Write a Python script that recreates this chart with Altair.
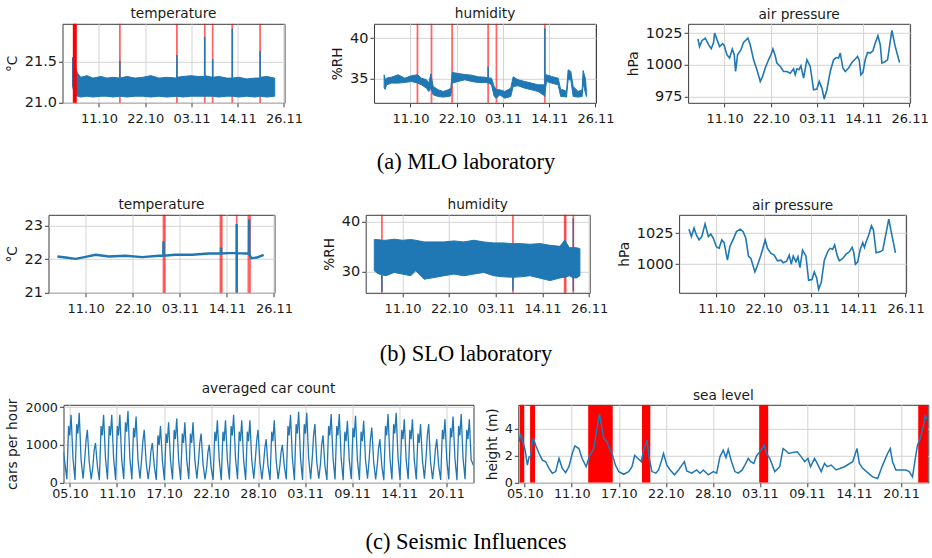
import altair as alt
import pandas as pd

# ---------------- time handling ----------------
DAY_MS = 86400000
T0_MS = int(pd.Timestamp("2017-10-11 06:00", tz="UTC").value // 10**6)  # the "11.10" tick


def ms(days):
    return [T0_MS + d * DAY_MS for d in days]


TICK_DAYS_WIDE = [0.0, 11.574074, 23.148148, 34.722222, 46.296296]
TICK_DAYS_NARROW = [-5.787037, 0.0, 5.787037, 11.574074, 17.361111, 23.148148,
                    28.935185, 34.722222, 40.509259]
DOM_SENS = [-9.13, 46.43]
DOM_SEIS = [-6.58, 43.87]

# ---------------- (a) MLO laboratory ----------------
TEMP_MLO_DAY = [-6.63, -6.05, -5.38, -4.55, -3.0, -1.5, 0.5, 2.0, 3.5, 5.18,
                5.23, 5.28, 7.0, 9.0, 11.0, 13.0, 15.0, 17.0, 19.46, 19.51,
                19.56, 21.0, 23.0, 24.8, 26.42, 26.47, 26.52, 28.41, 28.46, 28.51,
                30.0, 32.0, 33.31, 33.36, 33.41, 35.0, 37.0, 39.0, 40.28, 40.33,
                40.38, 42.0, 43.97]
TEMP_MLO_HI = [21.55, 21.45, 21.36, 21.31, 21.33, 21.30, 21.32, 21.30, 21.31, 21.30,
               21.51, 21.30, 21.32, 21.30, 21.31, 21.33, 21.30, 21.31, 21.30, 21.58,
               21.31, 21.32, 21.33, 21.32, 21.32, 21.80, 21.33, 21.31, 21.53, 21.31,
               21.32, 21.30, 21.30, 21.90, 21.30, 21.31, 21.29, 21.30, 21.30, 21.63,
               21.31, 21.32, 21.30]
TEMP_MLO_LO = [21.20, 21.10, 21.08, 21.07, 21.08, 21.07, 21.08, 21.08, 21.07, 21.08,
               21.08, 21.08, 21.07, 21.08, 21.08, 21.07, 21.08, 21.07, 21.08, 21.08,
               21.08, 21.07, 21.08, 21.08, 21.08, 21.08, 21.08, 21.08, 21.08, 21.08,
               21.07, 21.08, 21.08, 21.08, 21.08, 21.07, 21.08, 21.07, 21.08, 21.08,
               21.08, 21.07, 21.08]
TEMP_MLO_EVENTS = [5.23, 19.5, 26.47, 28.46, 33.36, 40.33]
TEMP_MLO_BLOCK = [-6.55, -5.55]

HUM_MLO_DAY = [-6.59, -6.30, -6.0, -4.75, -3.09, -1.42, 0.25, 1.75, 2.75, 4.0,
               4.59, 5.09, 5.68, 6.93, 8.18, 9.43, 10.1, 10.43, 11.93, 13.6,
               15.27, 16.93, 18.6, 19.39, 19.44, 19.49, 20.27, 20.94, 21.52, 22.35,
               23.6, 25.1, 25.69, 26.94, 28.6, 30.28, 31.95, 33.2, 33.58, 33.62,
               33.66, 34.03, 35.28, 36.96, 37.6, 38.21, 39.04, 39.46, 40.13, 40.71,
               41.96, 42.96, 43.21, 43.79, 44.04]
HUM_MLO_HI = [35.49, 34.90, 35.08, 35.2, 35.49, 35.08, 35.37, 35.5, 35.08, 34.88,
              34.47, 35.6, 34.06, 33.65, 33.44, 33.65, 33.85, 35.78, 35.65, 35.53,
              35.45, 35.24, 35.2, 35.1, 36.5, 35.1, 35.08, 34.06, 33.65, 33.65,
              33.44, 33.85, 35.24, 34.88, 34.67, 34.47, 34.26, 34.26, 34.3, 41.22,
              35.4, 35.49, 35.29, 35.08, 33.65, 33.65, 33.44, 36.11, 35.9, 34.06,
              33.44, 33.65, 36.02, 35.0, 33.44]
HUM_MLO_LO = [33.85, 33.70, 34.26, 34.47, 34.47, 34.55, 34.67, 34.47, 34.26, 33.85,
              33.44, 33.85, 33.03, 32.83, 32.75, 32.83, 32.9, 34.47, 34.67, 34.88,
              34.67, 34.55, 34.55, 34.5, 34.47, 34.47, 34.26, 32.83, 32.62, 33.03,
              32.62, 32.83, 34.06, 34.14, 33.85, 33.65, 33.44, 33.03, 32.9, 32.83,
              33.2, 34.67, 34.47, 34.26, 32.83, 32.83, 32.75, 34.88, 34.88, 32.83,
              32.75, 32.83, 34.47, 33.24, 32.83]
HUM_MLO_EVENTS = [1.75, 5.26, 10.43, 19.44, 21.52, 33.62]

PRES_MLO_DAY = [-6.67, -6.26, -5.67, -4.84, -4.0, -3.34, -2.75, -2.5, -1.92, -1.25,
                -0.5, -0.08, 0.58, 1.25, 1.92, 2.42, 2.75, 3.25, 4.09, 4.75,
                5.84, 6.42, 7.26, 8.09, 8.93, 9.51, 10.18, 11.01, 11.6, 12.1,
                12.68, 13.1, 13.93, 14.76, 15.6, 16.43, 17.27, 17.68, 18.1, 18.6,
                19.1, 19.77, 20.6, 21.44, 22.27, 23.11, 23.69, 24.36, 24.94, 25.61,
                26.44, 27.28, 27.94, 28.53, 28.95, 29.61, 30.2, 31.03, 31.86, 32.7,
                33.28, 33.7, 34.12, 34.62, 35.2, 35.79, 36.45, 37.12, 37.7, 38.37,
                38.96, 39.37, 40.21, 40.79, 41.87, 42.71, 43.79]
PRES_MLO_VAL = [1020.3, 1014.4, 1019.0, 1021.0, 1015.8, 1012.6, 1017.6, 1025.0, 1020.0, 1014.4,
                1016.7, 1015.0, 1007.9, 1005.3, 1012.4, 1007.9, 994.7, 1007.9, 1011.7, 1017.6,
                1021.0, 1015.8, 1003.9, 996.0, 986.9, 990.8, 997.4, 1003.9, 1007.9, 1012.4,
                1007.1, 1001.3, 998.7, 994.7, 994.7, 993.4, 996.8, 992.1, 996.8, 996.1,
                999.2, 989.5, 1003.9, 998.7, 980.3, 980.8, 986.9, 981.6, 973.0, 980.3,
                994.7, 1003.9, 1005.7, 1005.3, 1009.2, 997.4, 994.7, 997.4, 1001.8, 1004.5,
                1006.5, 1003.4, 992.1, 993.9, 1003.9, 1009.7, 1009.2, 1011.0, 1017.0, 1022.9,
                1015.8, 1001.3, 1002.6, 1003.9, 1027.1, 1014.4, 1001.8]

# ---------------- (b) SLO laboratory ----------------
TEMP_SLO_DAY = [-6.95, -4.92, -2.46, 0.0, 2.45, 5.72, 9.81, 13.9, 17.99, 19.10,
                19.14, 19.18, 22.08, 26.17, 30.26, 33.26, 33.30, 33.34, 35.17, 37.12,
                37.13, 37.14, 37.16, 39.27, 40.16, 40.20, 40.24, 40.74, 42.13, 43.77]
TEMP_SLO_VAL = [22.08, 22.05, 22.01, 22.07, 22.13, 22.08, 22.10, 22.06, 22.10, 22.10,
                22.53, 22.10, 22.13, 22.13, 22.17, 22.17, 22.35, 22.17, 22.18, 22.18,
                23.05, 21.0, 22.18, 22.17, 22.17, 23.18, 22.15, 22.03, 22.05, 22.13]
TEMP_SLO_EVENTS = [19.14, 19.47, 33.14, 33.46, 37.14, 40.01, 40.41]

HUM_SLO_DAY = [-7.0, -6.18, -5.16, -5.11, -5.06, -4.12, -2.07, 0.0, 2.05, 3.28,
               5.34, 7.81, 10.27, 12.74, 15.21, 17.68, 20.15, 22.61, 25.08, 27.34,
               27.39, 27.44, 29.2, 31.66, 34.13, 36.6, 39.07, 40.22, 40.47, 41.37,
               42.31, 42.36, 42.41, 43.18, 44.0]
HUM_SLO_HI = [36.42, 36.42, 36.3, 36.3, 36.3, 36.28, 36.49, 36.28, 36.42, 36.28,
              35.95, 35.95, 35.95, 36.15, 35.95, 36.28, 35.95, 35.75, 35.75, 35.6,
              35.6, 35.6, 35.61, 35.48, 35.61, 35.27, 35.07, 36.3, 36.0, 34.8,
              34.8, 40.68, 34.8, 34.8, 34.6]
HUM_SLO_LO = [30.2, 29.66, 29.4, 26.0, 29.4, 29.2, 29.86, 29.53, 29.2, 30.2,
              28.5, 28.84, 29.2, 29.53, 29.2, 29.53, 29.86, 29.2, 28.98, 28.9,
              26.28, 28.9, 28.98, 29.2, 28.72, 28.23, 28.77, 28.9, 28.9, 29.2,
              28.8, 26.15, 28.8, 28.77, 29.2]
HUM_SLO_EVENTS = [-5.11, 27.39, 40.22, 40.47, 42.36]

PRES_SLO_DAY = [-6.7, -6.13, -5.47, -4.9, -4.24, -3.58, -2.77, -1.96, -1.37, -0.74,
                0.0, 0.66, 1.32, 1.89, 2.7, 3.29, 4.1, 4.91, 5.81, 6.55,
                7.2, 7.85, 8.44, 9.42, 10.06, 10.89, 11.53, 11.94, 12.51, 13.34,
                14.15, 14.96, 15.8, 16.36, 17.18, 17.83, 18.32, 18.81, 19.47, 19.96,
                20.45, 21.09, 21.93, 22.57, 23.4, 23.96, 24.53, 25.02, 25.68, 26.42,
                27.23, 27.81, 28.45, 28.94, 29.61, 30.1, 30.91, 31.74, 32.55, 33.21,
                33.6, 34.02, 34.59, 35.17, 35.81, 36.23, 36.65, 37.29, 37.95, 38.44,
                39.1, 40.08, 40.72, 42.19, 43.02, 43.83]
PRES_SLO_VAL = [1028.3, 1022.3, 1029.1, 1023.6, 1019.6, 1022.3, 1032.6, 1022.3, 1024.4, 1020.9,
                1014.1, 1012.8, 1019.6, 1017.4, 1003.3, 1014.1, 1020.1, 1026.3, 1028.3, 1026.3,
                1020.9, 1006.5, 1004.6, 993.8, 999.2, 1007.3, 1014.7, 1019.6, 1012.8, 1008.7,
                1007.3, 1002.7, 1003.3, 1001.1, 1002.4, 1007.3, 1000.0, 1006.5, 1001.9, 1006.0,
                997.3, 1011.4, 1006.5, 987.0, 987.6, 993.8, 989.1, 979.6, 985.6, 1003.3,
                1010.0, 1012.8, 1012.0, 1015.5, 1006.5, 1002.7, 1004.6, 1008.1, 1010.0, 1013.6,
                1010.0, 1000.0, 1001.9, 1011.4, 1017.4, 1013.6, 1018.2, 1023.6, 1031.0, 1027.7,
                1009.2, 1010.0, 1011.4, 1036.4, 1022.3, 1009.2]

# ---------------- (c) Seismic influences ----------------
# one entry per day, 05.10 ... 23.11 (night low, morning, late morning, afternoon peak, evening)
CAR_FIRST_MIDNIGHT = -6.25
CAR_HOURS = [2.0, 7.0, 10.5, 14.5, 20.0]
CAR_LOW = [90, 70, 100, 80, 60, 80, 70, 90, 80, 100, 90, 70, 60, 80, 70, 90, 100, 80, 70, 60,
           80, 90, 70, 100, 80, 70, 90, 80, 60, 70, 90, 100, 70, 80, 60, 90, 70, 100, 80, 60,
           80, 70, 90, 80, 100, 90, 70, 80, 60, 90]
CAR_AM = [1500, 1550, 650, 450, 1500, 1500, 1500, 1600, 1450, 650, 450, 1250, 1300, 1400, 1300,
          1300, 600, 400, 1350, 1350, 1500, 1350, 1350, 650, 500, 1350, 450, 1500, 1550, 1550,
          700, 500, 1500, 1500, 1350, 1450, 1350, 650, 500, 1500, 1550, 1400, 1400, 1300, 700,
          500, 1400, 1450, 1500, 1400]
CAR_DIP = [1250, 1300, 1100, 850, 1250, 1250, 1250, 1350, 1200, 1100, 850, 1000, 1050, 1150, 1050,
           1050, 1050, 800, 1100, 1100, 1250, 1100, 1100, 1100, 900, 1100, 800, 1250, 1300, 1300,
           1250, 1000, 1250, 1250, 1100, 1200, 1100, 1150, 900, 1250, 1300, 1150, 1150, 1050, 1250,
           900, 1150, 1200, 1250, 1150]
CAR_PM = [1800, 1850, 1400, 1050, 1800, 1800, 1800, 1900, 1750, 1400, 1050, 1500, 1600, 1700, 1600,
          1600, 1300, 1000, 1650, 1650, 1800, 1650, 1650, 1400, 1150, 1650, 1000, 1800, 1880, 1850,
          1550, 1250, 1820, 1820, 1640, 1770, 1640, 1460, 1150, 1820, 1850, 1680, 1680, 1550, 1550,
          1150, 1680, 1750, 1820, 1680]
CAR_EVE = [650, 600, 550, 450, 650, 650, 600, 650, 600, 550, 450, 600, 600, 600, 600, 600, 500, 400,
           600, 600, 650, 600, 600, 550, 450, 600, 450, 650, 650, 650, 550, 450, 650, 650, 600, 600,
           600, 550, 450, 650, 650, 600, 600, 600, 550, 450, 600, 650, 650, 600]
CAR_START = [-6.58, 800]
CAR_END = [43.87, 450]

SEA_DAY = [-6.48, -6.27, -6.07, -5.74, -5.46, -5.25, -5.05, -4.84, -4.72, -4.44,
           -4.03, -3.62, -3.21, -2.8, -2.39, -1.98, -1.57, -1.17, -0.76, -0.35,
           0.06, 0.38, 0.87, 1.28, 1.77, 2.18, 2.71, 3.12, 3.41, 3.65,
           3.94, 4.35, 4.63, 4.96, 5.37, 5.78, 6.39, 7.0, 7.41, 7.74,
           8.15, 8.56, 8.84, 9.25, 9.54, 9.86, 10.35, 10.68, 11.0, 11.29,
           11.7, 12.11, 12.64, 13.13, 13.54, 13.86, 14.15, 14.76, 15.37, 15.78,
           16.19, 16.8, 17.42, 17.83, 18.23, 18.64, 18.97, 19.25, 19.66, 20.07,
           20.48, 20.97, 21.3, 21.71, 22.03, 22.4, 22.73, 23.14, 23.42, 23.67,
           23.96, 24.36, 24.98, 25.59, 26.0, 26.28, 26.69, 27.22, 27.75, 28.24,
           28.65, 29.06, 29.38, 29.87, 30.2, 30.69, 31.1, 31.43, 31.92, 32.53,
           33.55, 34.57, 35.1, 35.39, 35.8, 36.41, 37.02, 37.64, 38.25, 38.86,
           39.19, 39.47, 39.88, 40.49, 41.11, 41.52, 41.93, 42.21, 42.54, 42.87,
           43.28, 43.48, 43.69]
SEA_VAL = [3.0, 3.61, 3.12, 2.39, 1.29, 1.9, 1.98, 3.12, 3.25, 2.76,
           2.15, 1.66, 1.54, 1.05, 0.69, 0.81, 1.78, 1.05, 0.73, 1.17,
           2.15, 2.71, 2.51, 1.78, 1.17, 1.98, 2.51, 4.1, 5.08, 4.22,
           3.25, 3.0, 2.51, 2.15, 1.29, 0.81, 0.61, 0.81, 1.17, 2.0,
           1.78, 1.54, 2.39, 3.12, 1.78, 0.81, 0.69, 0.93, 1.54, 2.15,
           1.29, 0.93, 0.57, 0.93, 1.29, 1.54, 0.86, 0.69, 0.93, 0.69,
           0.93, 0.57, 0.81, 0.69, 1.9, 2.39, 1.85, 2.44, 1.54, 0.81,
           0.69, 0.93, 1.29, 1.78, 1.54, 1.41, 1.98, 2.27, 2.51, 2.76,
           2.15, 1.78, 0.81, 1.17, 2.51, 2.39, 2.15, 2.23, 2.27, 1.9,
           1.54, 1.78, 1.17, 1.78, 1.41, 0.81, 1.41, 1.17, 1.29, 0.93,
           1.17, 1.54, 2.51, 1.41, 1.05, 0.73, 0.42, 0.3, 1.29, 2.15,
           2.51, 1.54, 0.93, 0.93, 0.93, 0.81, 0.42, 1.54, 2.76, 3.25,
           4.22, 4.95, 4.7]
SEA_EVENT_START = [-6.4, -5.13, 2.02, 8.64, 23.06, 42.63]
SEA_EVENT_END = [-5.86, -4.52, 5.04, 9.66, 24.17, 43.83]

CAPTIONS = ["(a) MLO laboratory", "(b) SLO laboratory", "(c) Seismic Influences"]

# ---------------- styling ----------------
BLUE = "#1f77b4"
FONT = "DejaVu Sans"
RED_RULE = dict(color="#ff0000", opacity=0.6, strokeWidth=1.8)
PAD_LEFT = 2


def xenc(field, dom, tick_days, lsize, lpad):
    return alt.X(f"{field}:Q",
                 scale=alt.Scale(domain=ms(dom), nice=False, zero=False),
                 axis=alt.Axis(values=ms(tick_days), labelExpr="utcFormat(datum.value, '%d.%m')",
                               title=None, labelFontSize=lsize, labelPadding=lpad,
                               labelFlush=False, labelOverlap=False, grid=True))


def yenc(field, dom, vals, fmt, title, lsize):
    return alt.Y(f"{field}:Q",
                 scale=alt.Scale(domain=dom, nice=False, zero=False),
                 axis=alt.Axis(values=vals, format=fmt, title=title, labelFontSize=lsize,
                               labelOverlap=False, grid=True))


def sens_x(field):
    return xenc(field, DOM_SENS, TICK_DAYS_WIDE, 13, 6)


def seis_x(field):
    return xenc(field, DOM_SEIS, TICK_DAYS_NARROW, 12.8, 1)


def rules(days, X):
    return alt.Chart(pd.DataFrame({"t": ms(days)})).mark_rule(**RED_RULE).encode(x=X)


def band_panel(days, hi, lo, events, ydom, yvals, yfmt, ytitle, title, w, h, block=None):
    X = sens_x("t")
    Y = yenc("hi", ydom, yvals, yfmt, ytitle, 14.5)
    df = pd.DataFrame({"t": ms(days), "hi": hi, "lo": lo})
    layers = [rules(events, X),
              alt.Chart(df).mark_area(color=BLUE, stroke=BLUE, strokeWidth=1, clip=True)
              .encode(x=X, y=Y, y2="lo:Q")]
    if block is not None:
        bdf = pd.DataFrame({"t": ms([block[0]]), "t2": ms([block[1]])})
        layers.append(alt.Chart(bdf).mark_rect(color="#ff0000").encode(x=X, x2="t2:Q"))
    return alt.layer(*layers).properties(width=w, height=h, title=title)


def line_panel(days, vals, events, ydom, yvals, yfmt, ytitle, title, w, h, sw=1.6):
    X = sens_x("t")
    Y = yenc("v", ydom, yvals, yfmt, ytitle, 14.5)
    df = pd.DataFrame({"t": ms(days), "v": vals})
    layers = []
    if events:
        layers.append(rules(events, X))
    layers.append(alt.Chart(df).mark_line(color=BLUE, strokeWidth=sw, clip=True).encode(x=X, y=Y))
    return alt.layer(*layers).properties(width=w, height=h, title=title)


# row (a)
t_mlo = band_panel(TEMP_MLO_DAY, TEMP_MLO_HI, TEMP_MLO_LO, TEMP_MLO_EVENTS,
                   [21.0, 21.96], [21.0, 21.5], ".1f", "°C", "temperature", 222, 79,
                   block=TEMP_MLO_BLOCK)
h_mlo = band_panel(HUM_MLO_DAY, HUM_MLO_HI, HUM_MLO_LO, HUM_MLO_EVENTS,
                   [32.05, 41.76], [35, 40], "d", "%RH", "humidity", 222, 79)
p_mlo = line_panel(PRES_MLO_DAY, PRES_MLO_VAL, [], [970.0, 1032.3], [975, 1000, 1025], "d",
                   "hPa", "air pressure", 222, 79)

# row (b)
t_slo = line_panel(TEMP_SLO_DAY, TEMP_SLO_VAL, TEMP_SLO_EVENTS, [21.0, 23.32], [21, 22, 23], "d",
                   "°C", "temperature", 226, 78, sw=2.4)
h_slo = band_panel(HUM_SLO_DAY, HUM_SLO_HI, HUM_SLO_LO, HUM_SLO_EVENTS,
                   [25.8, 41.36], [30, 40], "d", "%RH", "humidity", 224, 78)
p_slo = line_panel(PRES_SLO_DAY, PRES_SLO_VAL, [], [976.9, 1039.9], [1000, 1025], "d",
                   "hPa", "air pressure", 227, 78)

# row (c)
car_t, car_v = [CAR_START[0]], [CAR_START[1]]
for n in range(len(CAR_PM)):
    for hour, arr in zip(CAR_HOURS, [CAR_LOW, CAR_AM, CAR_DIP, CAR_PM, CAR_EVE]):
        car_t.append(CAR_FIRST_MIDNIGHT + n + hour / 24.0)
        car_v.append(arr[n])
car_t.append(CAR_END[0])
car_v.append(CAR_END[1])
car_df = pd.DataFrame({"t": ms(car_t), "v": car_v})
car = alt.Chart(car_df).mark_line(color=BLUE, strokeWidth=1.3, clip=True).encode(
    x=seis_x("t"),
    y=alt.Y("v:Q", scale=alt.Scale(domain=[-8, 2064], nice=False, zero=False),
            axis=alt.Axis(values=[0, 1000, 2000], format="d", title="cars per hour",
                          labelFontSize=12.8, grid=True))
).properties(width=410, height=78, title="averaged car count")

sea_x = seis_x("t")
sea_ev = pd.DataFrame({"t": ms(SEA_EVENT_START), "t2": ms(SEA_EVENT_END)})
sea_df = pd.DataFrame({"t": ms(SEA_DAY), "v": SEA_VAL})
sea = alt.layer(
    alt.Chart(sea_ev).mark_rect(color="#ff0000", clip=True).encode(x=sea_x, x2="t2:Q"),
    alt.Chart(sea_df).mark_line(color=BLUE, strokeWidth=1.5, clip=True).encode(
        x=sea_x,
        y=alt.Y("v:Q", scale=alt.Scale(domain=[-0.02, 5.75], nice=False, zero=False),
                axis=alt.Axis(values=[0, 2, 4], format="d", title="height (m)",
                              labelFontSize=12.8, grid=True)))
).properties(width=410, height=78, title="sea level")


def spacer():
    return alt.Chart(pd.DataFrame({"a": [0]})).mark_point(
        opacity=0, size=0, strokeWidth=0, clip=True
    ).encode(
        x=alt.X("a:Q", axis=None), y=alt.Y("a:Q", axis=None)
    ).properties(width=1, height=1, view=alt.ViewBackground(strokeOpacity=0, strokeWidth=0))


def caption(txt, h, y):
    return alt.Chart(pd.DataFrame({"c": [txt]})).mark_text(
        font="Liberation Serif", fontSize=22.5, color="black", align="center",
        baseline="alphabetic"
    ).encode(text="c:N", x=alt.value(466 - PAD_LEFT), y=alt.value(y)).properties(
        width=860, height=h, view=alt.ViewBackground(strokeOpacity=0))


row_a = alt.hconcat(spacer(),
                    alt.hconcat(alt.hconcat(t_mlo, h_mlo, spacing=26.5), p_mlo, spacing=9.6),
                    spacing=1.5)
row_b = alt.hconcat(spacer(),
                    alt.hconcat(alt.hconcat(t_slo, h_slo, spacing=28.2), p_slo, spacing=7.6),
                    spacing=1.5)
row_c = alt.hconcat(spacer(), alt.hconcat(car, sea, spacing=9.8), spacing=1.5)

chart = alt.concat(row_a, caption(CAPTIONS[0], 59.1, 37.6),
                   row_b, caption(CAPTIONS[1], 54.3, 39.1),
                   row_c, caption(CAPTIONS[2], 46, 42.3),
                   columns=1, spacing=5).properties(
    padding={"left": PAD_LEFT, "top": 5.8, "right": 2, "bottom": 2},
    background="white",
).configure_view(
    stroke="#3a3a3a", strokeWidth=1
).configure_axis(
    domain=False, tickSize=4, tickColor="#3a3a3a", tickWidth=1,
    labelFont=FONT, labelColor="#1a1a1a", labelPadding=2,
    titleFont=FONT, titleFontSize=13.7, titleFontWeight="normal", titleColor="#1a1a1a",
    titlePadding=5, gridColor="#d3d3d3", gridWidth=1
).configure_title(
    font=FONT, fontSize=13.7, fontWeight="normal", color="#1a1a1a", offset=2,
    anchor="middle", baseline="alphabetic"
)

chart.save("out.html", embed_options={"renderer": "svg", "actions": False})
